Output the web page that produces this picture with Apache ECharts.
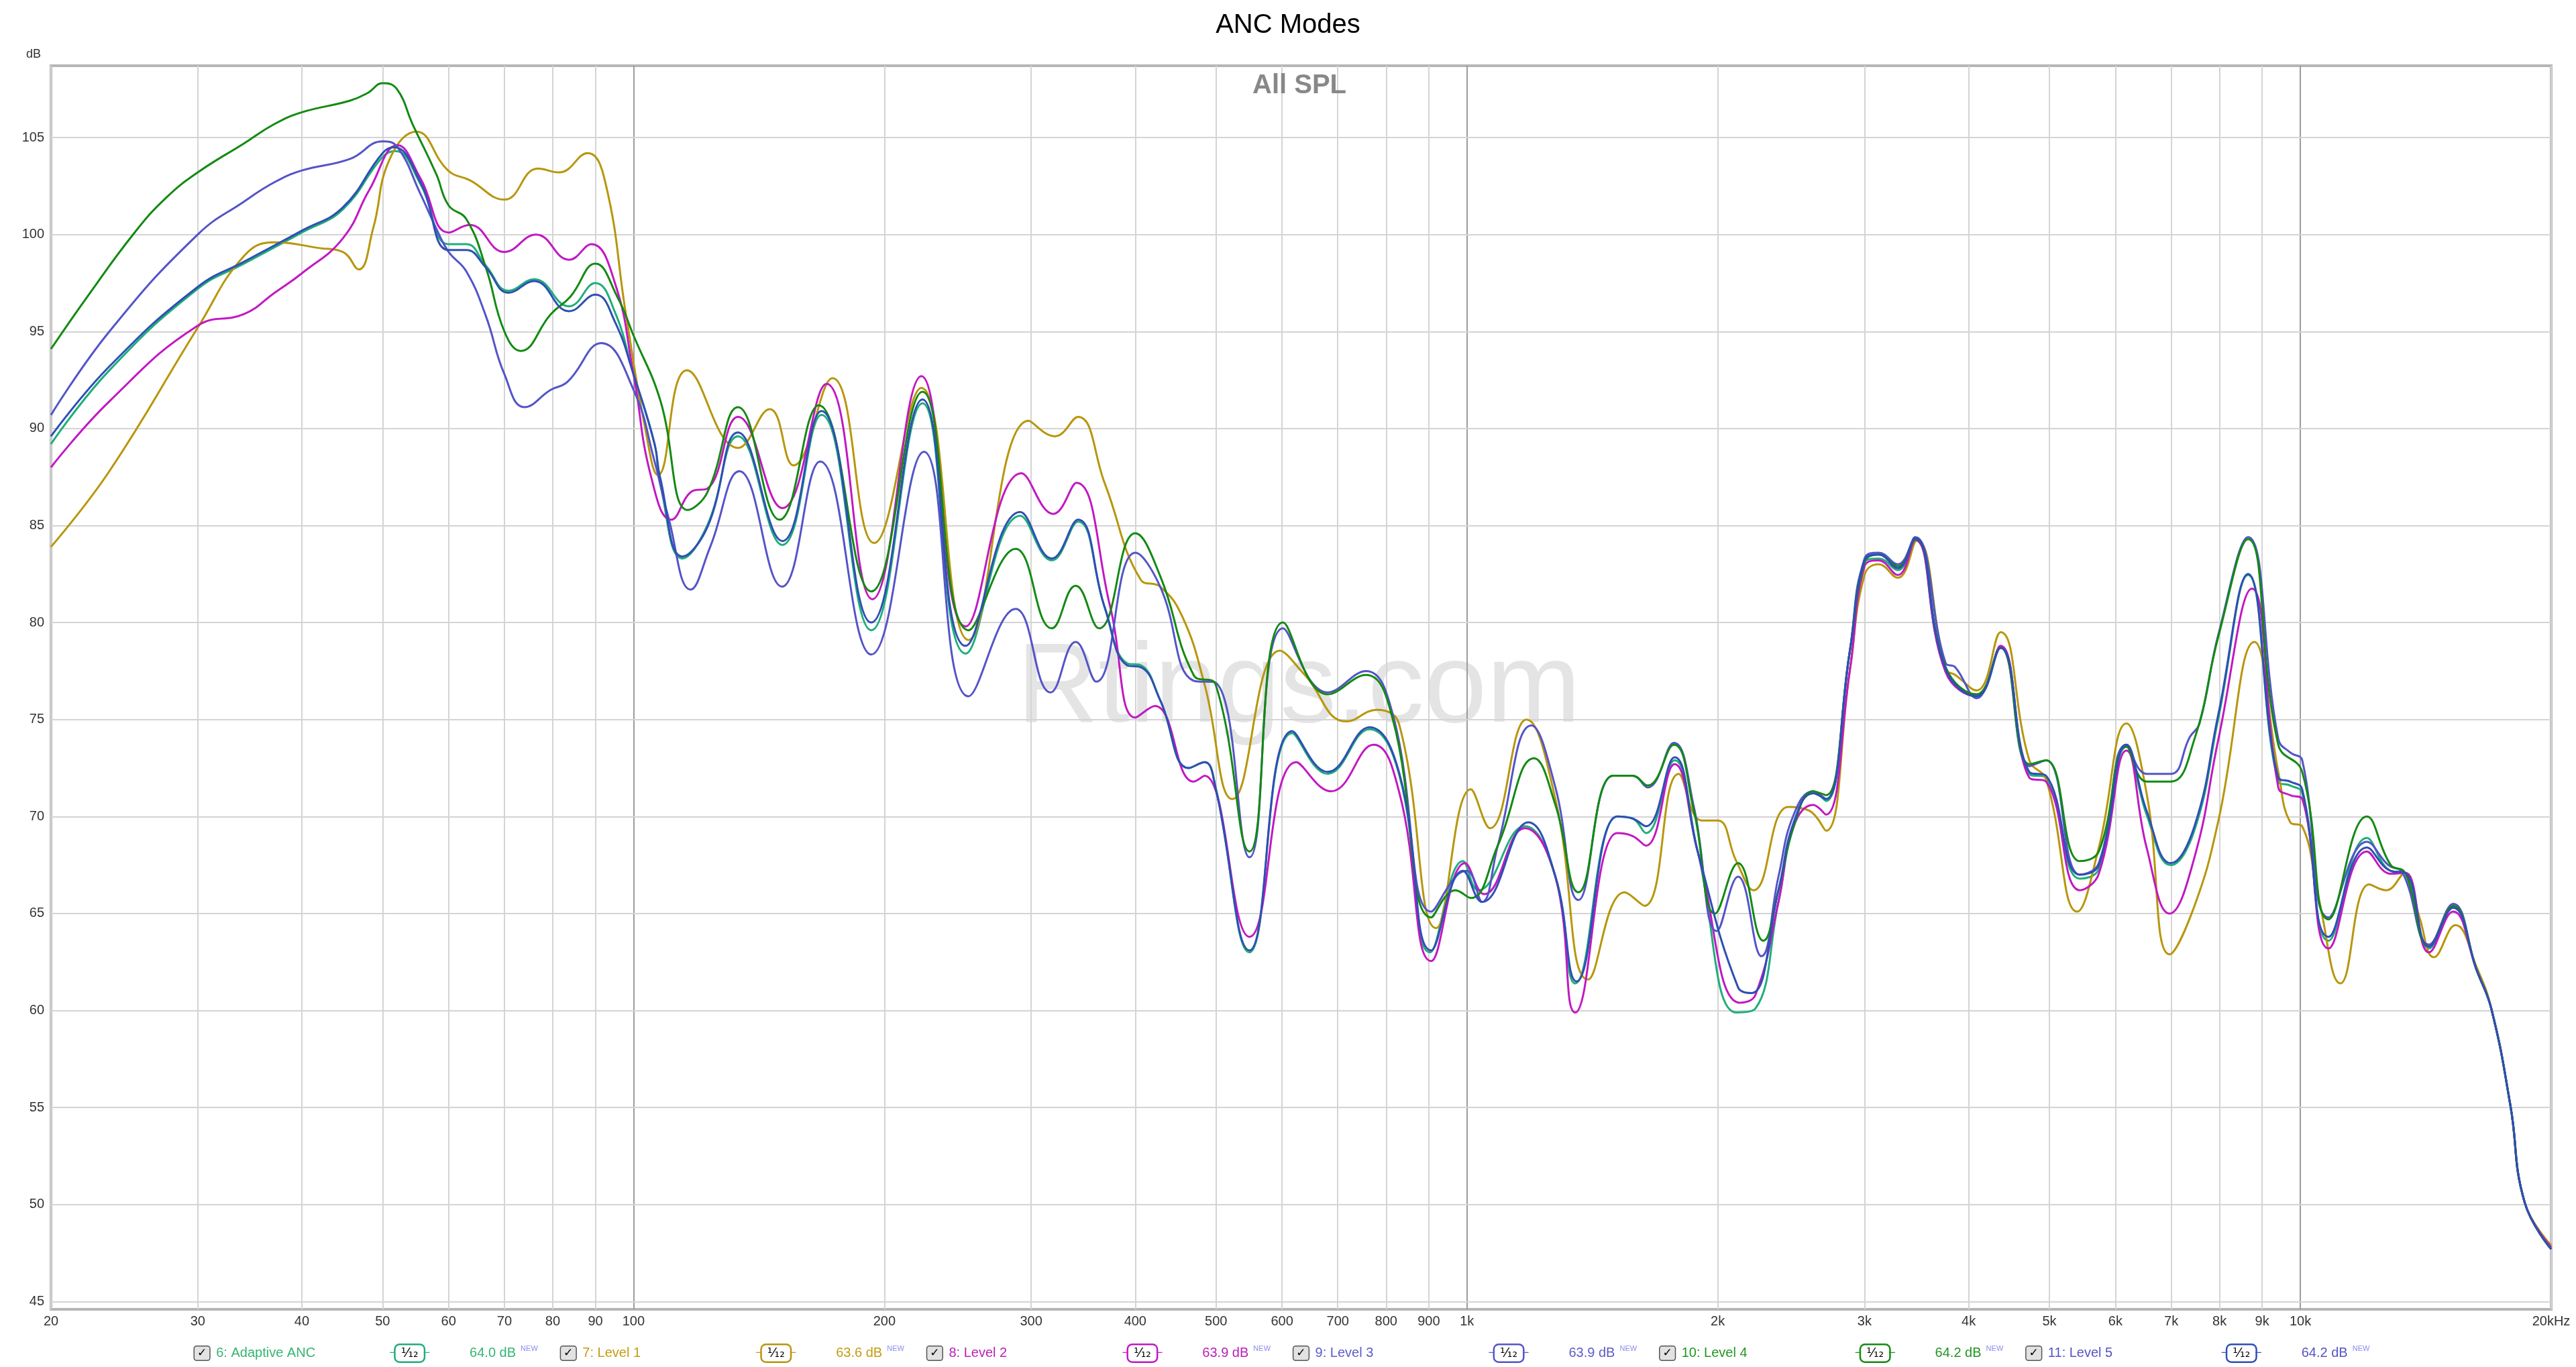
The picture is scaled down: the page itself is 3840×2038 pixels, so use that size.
<!DOCTYPE html>
<html><head><meta charset="utf-8">
<script src="https://cdn.jsdelivr.net/npm/echarts@6/dist/echarts.min.js"></script>
<style>html,body{margin:0;padding:0;background:#fff;}#c{width:3840px;height:2038px;}</style>
</head><body><div id="c"></div>
<script>
const seriesNames = ['6: Adaptive ANC','7: Level 1','8: Level 2','9: Level 3','10: Level 4','11: Level 5'];
const lineColors = ['#1fae7a','#b8960c','#c218c2','#5454c8','#138a13','#2f4fb4'];
const textColors = ['#35b574','#c39c14','#b81fb8','#5c5cc8','#229522','#5454c4'];
const dbLabels = ['64.0 dB','63.6 dB','63.9 dB','63.9 dB','64.2 dB','64.2 dB'];
const xTicks = [20,30,40,50,60,70,80,90,100,200,300,400,500,600,700,800,900,1000,2000,3000,4000,5000,6000,7000,8000,9000,10000,20000];
const xTickLabels = ['20','30','40','50','60','70','80','90','100','200','300','400','500','600','700','800','900','1k','2k','3k','4k','5k','6k','7k','8k','9k','10k','20kHz'];
const decadeTicks = [100,1000,10000];
const yTicks = [45,50,55,60,65,70,75,80,85,90,95,100,105];

const adaptiveANC = [[20,89.2],[23.5,93.0],[30,97.2],[34.1,98.5],[40,100.1],[44.8,101.3],[50,104.0],[51.8,104.3],[55.5,102.6],[60,99.5],[63,99.5],[66.5,98.4],[70.8,97.1],[76,97.7],[83.7,96.3],[90,97.5],[95,96.0],[100,92.8],[106,89.2],[107.6,87.2],[114.5,83.3],[122.6,85.0],[133.5,89.6],[150.9,84.0],[168.1,90.7],[192.9,79.6],[222.2,91.3],[250.3,78.4],[291,85.5],[317.6,83.2],[341.5,85.2],[367.5,80.8],[390.9,77.9],[406.2,77.8],[428.5,76.0],[463.5,72.5],[484.5,72.8],[499.5,71.5],[548.5,63.0],[617,74.3],[680.6,72.2],[764,74.5],[830,72.1],[903,63.0],[989,67.7],[1032,66.2],[1173,69.5],[1277,66.9],[1349,61.4],[1514,70.0],[1580,69.9],[1640,69.15],[1775,72.9],[1892,68.2],[2105,59.9],[2219,60.1],[2365,65.6],[2467,69.5],[2603,71.3],[2697,70.8],[2880,78.5],[3000,83.1],[3119,83.3],[3289,82.7],[3450,84.3],[3754,77.45],[4090,76.2],[4369,78.7],[4730,72.2],[4955,72.0],[5440,66.8],[5731,67.3],[6187,73.6],[6540,70.1],[6990,67.5],[7465,69.3],[7976,75.1],[8656,82.45],[9410,71.8],[9726,71.6],[10053,71.2],[10811,63.6],[12018,68.9],[12838,67.2],[13360,67.1],[14270,63.2],[15252,65.3],[16290,62.05],[16950,60.1],[17870,55.1],[18590,50.1],[20000,47.8]];
const level1 = [[20,83.9],[23.5,87.8],[30,95.2],[34.1,98.9],[37.1,99.6],[42,99.3],[44.8,99.1],[46.8,98.2],[48.7,100.3],[51,103.9],[54.9,105.3],[59.9,103.3],[63.6,102.8],[70,101.8],[76.8,103.4],[81.4,103.2],[88.1,104.2],[92.5,102.7],[98,95.8],[103.5,89.8],[107,87.6],[115.9,93.0],[133.5,89.0],[145.7,91.0],[155.6,88.1],[173.3,92.6],[194.4,84.1],[221.5,92.1],[252.3,79.1],[297.8,90.4],[320.2,89.6],[341.5,90.6],[367.5,87.2],[406.2,82.2],[428.5,81.85],[455.6,80.3],[484.5,76.8],[523.2,70.9],[596.3,78.55],[639,77.3],[716.8,74.9],[779.8,75.5],[829.3,74.75],[918.5,64.25],[1010.7,71.4],[1066,69.4],[1179,75.0],[1277,70.9],[1398,61.6],[1546,66.1],[1634,65.4],[1795,72.2],[1912,69.8],[2000,69.8],[2105,67.7],[2208,66.2],[2430,70.5],[2576,70.3],[2697,69.27],[2880,77.5],[3000,82.45],[3119,83.0],[3289,82.3],[3467,84.25],[3754,77.6],[3854,77.3],[4090,76.5],[4369,79.5],[4730,72.9],[4955,71.9],[5399,65.1],[5731,68.4],[6187,74.8],[6540,71.2],[6969,62.9],[7465,65.4],[7976,69.8],[8808,79.0],[9410,72.3],[9726,69.7],[10053,69.5],[10529,65.7],[11174,61.4],[12097,66.5],[12670,66.2],[13360,67.1],[13900,64.8],[14465,62.75],[15350,64.4],[16290,62.2],[16950,60.1],[17870,55.1],[18590,50.1],[20000,47.9]];
const level2 = [[20,88.0],[23.5,91.4],[30,95.3],[34.1,95.9],[37.1,97.0],[40,98.0],[44.8,99.8],[48.2,102.3],[52.1,104.6],[55.5,102.9],[60,100.1],[63.6,100.5],[70,99.1],[76.4,100.0],[83.7,98.7],[89,99.5],[95,97.5],[100,92.8],[105,87.5],[111,85.3],[118,86.8],[122.6,86.9],[133.5,90.6],[150.9,85.9],[170.5,92.3],[193.5,81.2],[221.5,92.7],[250.3,79.8],[292,87.7],[319,85.6],[340,87.2],[373.3,80.8],[400,75.1],[422.3,75.7],[469.9,71.8],[484.5,72.1],[548.5,63.8],[624,72.8],[686.9,71.3],[772.8,73.7],[830,71.2],[906,62.55],[994.7,67.6],[1049,66.0],[1173,69.4],[1277,66.9],[1349,59.9],[1514,69.15],[1580,69.0],[1640,68.5],[1775,72.7],[1892,68.2],[2126,60.4],[2219,60.8],[2365,65.6],[2467,69.5],[2603,70.6],[2697,70.1],[2880,77.5],[3000,82.9],[3119,83.2],[3289,82.45],[3450,84.25],[3754,77.45],[4090,76.2],[4369,78.8],[4730,72.0],[4955,71.8],[5440,66.2],[5731,67.05],[6187,73.4],[6540,68.4],[6969,65.0],[7465,67.9],[7976,74.0],[8750,81.75],[9410,71.5],[9726,71.1],[10053,70.9],[10811,63.2],[12018,68.2],[12838,67.05],[13360,67.1],[14270,63.0],[15252,65.1],[16290,62.05],[16950,60.1],[17870,55.1],[18590,50.1],[20000,47.8]];
const level3 = [[20,90.7],[23.5,95.0],[30,100.0],[34.1,101.7],[37.1,102.7],[40,103.3],[45.7,103.9],[50,104.8],[52.1,104.5],[55.5,102.1],[58,100.3],[60,99.1],[63,98.1],[66.5,95.8],[70,92.8],[74,91.1],[79.6,92.0],[83.3,92.4],[91.5,94.4],[100,92.0],[106,88.3],[110,85.5],[117.1,81.7],[123.6,83.9],[134,87.8],[150.7,81.85],[167.5,88.3],[192.9,78.35],[223.1,88.8],[252.3,76.2],[287.4,80.7],[316.5,76.4],[339.3,79.0],[359.2,76.95],[400,83.6],[428.5,81.85],[469.9,77.0],[499.5,76.9],[548.5,67.9],[601.5,79.7],[680.6,76.4],[756.6,77.5],[815,75.25],[906,65.1],[969,66.9],[1000,67.2],[1043,65.6],[1089,68.5],[1195,74.7],[1277,71.5],[1361,65.7],[1497,72.1],[1580,72.1],[1648,71.5],[1772,73.8],[1872,70.5],[1995,64.1],[2115,66.9],[2256,62.8],[2365,66.9],[2467,70.1],[2603,71.3],[2697,70.9],[2880,78.5],[3000,83.3],[3119,83.6],[3289,83.0],[3450,84.4],[3754,77.9],[3854,77.7],[4090,76.1],[4369,78.7],[4730,72.6],[4955,72.9],[5440,67.0],[5731,67.6],[6187,73.7],[6540,72.2],[6990,72.2],[7370,74.1],[7570,74.8],[7976,79.4],[8656,84.4],[9410,74.0],[9726,73.3],[10053,72.9],[10811,64.8],[12018,68.7],[12750,67.5],[13270,67.1],[14270,63.4],[15252,65.5],[16290,62.05],[16950,60.1],[17870,55.1],[18590,50.1],[20000,47.7]];
const level4 = [[20,94.1],[22.2,96.9],[25.2,100.1],[27.5,101.9],[30,103.2],[34.1,104.7],[37.1,105.7],[40,106.3],[45.7,106.9],[48,107.3],[50,107.8],[52,107.5],[54.3,105.7],[58,103.1],[60,101.5],[63,100.8],[66.5,98.3],[70,95.0],[73.2,94.0],[79.6,95.9],[84,96.8],[90,98.5],[95.6,96.8],[100,94.8],[107.6,91.5],[116.2,85.8],[122.6,86.7],[133.5,91.1],[149.7,85.3],[166.8,91.2],[192.9,81.6],[222.2,91.9],[252.3,79.6],[287.4,83.8],[317.6,79.7],[339.3,81.9],[362,79.7],[400,84.6],[428.5,82.4],[469.9,77.3],[499.5,76.8],[548.5,68.2],[601.5,80.0],[680.6,76.3],[756.6,77.3],[815,75.0],[906,64.8],[969,66.2],[1011,65.8],[1089,68.5],[1204,73.0],[1277,70.6],[1361,66.1],[1497,72.1],[1580,72.1],[1648,71.6],[1772,73.7],[1872,70.3],[1985,65.0],[2115,67.6],[2268,63.6],[2365,66.2],[2467,69.5],[2603,71.3],[2697,71.1],[2880,78.5],[3000,83.1],[3119,83.5],[3289,82.9],[3450,84.3],[3754,77.7],[4090,76.3],[4369,78.7],[4730,72.7],[4955,72.9],[5440,67.7],[5731,68.2],[6187,73.6],[6540,71.8],[6990,71.8],[7465,74.0],[7976,79.3],[8656,84.3],[9410,73.7],[10053,72.3],[10811,64.7],[12018,70.0],[12838,67.5],[13360,67.1],[14270,63.3],[15252,65.4],[16290,62.05],[16950,60.1],[17870,55.1],[18590,50.1],[20000,47.7]];
const level5 = [[20,89.6],[23.5,93.2],[30,97.3],[34.1,98.6],[40,100.2],[44.8,101.4],[50,104.2],[51.6,104.5],[55.5,102.7],[60,99.2],[63,99.2],[66.5,98.3],[70.8,97.0],[76,97.6],[83.7,96.05],[90,96.9],[95,95.5],[100,92.8],[106,89.2],[107.6,87.5],[114.5,83.4],[122.6,84.9],[133.5,89.8],[150.9,84.2],[168.1,90.9],[192.9,80.0],[222.2,91.5],[250.3,78.8],[291,85.7],[317.6,83.3],[341.5,85.3],[367.5,80.8],[390.9,77.8],[406.2,77.7],[428.5,76.0],[463.5,72.5],[484.5,72.8],[499.5,71.45],[548.5,63.1],[617,74.4],[680.6,72.3],[764,74.6],[830,72.2],[906,63.1],[989,67.2],[1043,65.6],[1185,69.7],[1277,66.9],[1354,61.5],[1514,70.0],[1580,69.9],[1640,69.5],[1775,73.05],[1892,68.2],[2115,61.2],[2196,60.9],[2365,66.2],[2467,69.7],[2603,71.2],[2697,70.9],[2880,78.5],[3000,83.2],[3119,83.5],[3289,82.8],[3450,84.35],[3754,77.6],[4090,76.2],[4369,78.7],[4730,72.3],[4955,72.1],[5440,67.0],[5731,67.5],[6187,73.7],[6540,70.3],[6990,67.6],[7465,69.5],[7976,75.3],[8656,82.5],[9410,72.0],[9726,71.8],[10053,71.4],[10811,63.8],[12018,68.4],[12838,67.2],[13360,67.1],[14270,63.3],[15252,65.3],[16290,62.05],[16950,60.1],[17870,55.1],[18590,50.1],[20000,47.7]];

const seriesData = [adaptiveANC, level1, level2, level3, level4, level5];
const FONT = '"Liberation Sans", Arial, sans-serif';

const rich = {
  chk: {padding: [2, 4, 1, 4], backgroundColor: '#e2e2e2', borderColor: '#555', borderWidth: 1.5, borderRadius: 3, color: '#000', fontSize: 17, fontWeight: 'bold', fontFamily: 'DejaVu Sans'},
  sp: {width: 10},
  name: {width: 259, fontSize: 20, fontFamily: FONT},
  gap: {width: 60},
  db: {width: 76, fontSize: 20, fontFamily: FONT},
  nw: {width: 34, fontSize: 11, color: '#8c8cee', fontFamily: FONT, verticalAlign: 'top', lineHeight: 12}
};
lineColors.forEach((c, i) => {
  rich['l' + i] = {color: c, fontSize: 14, fontFamily: 'DejaVu Sans'};
  rich['b' + i] = {color: '#000', borderColor: c, borderWidth: 2.5, borderRadius: 6, padding: [3, 8, 2, 8], fontSize: 19, fontFamily: 'DejaVu Sans', backgroundColor: '#fff'};
});

const gridMarks = [];
xTicks.forEach((v, i) => gridMarks.push({xAxis: v, label: {formatter: xTickLabels[i], distance: 8}, lineStyle: {color: decadeTicks.includes(v) ? '#9c9c9c' : '#d4d4d4'}}));
yTicks.forEach(v => gridMarks.push({yAxis: v, label: {formatter: String(v), distance: 10}}));

const chart = echarts.init(document.getElementById('c'), null, {renderer: 'canvas'});
const series = [{
  type: 'line', name: '__grid', data: [], silent: true, z: 1,
  markLine: {
    silent: true, z: 1, animation: false, symbol: ['none', 'none'],
    lineStyle: {type: 'solid', width: 2, color: '#d4d4d4'},
    label: {position: 'start', color: '#333', fontSize: 20, fontFamily: FONT},
    emphasis: {disabled: true},
    data: gridMarks
  }
}];
seriesNames.forEach((n, i) => series.push({
  type: 'line', name: n, data: seriesData[i], showSymbol: false, smooth: 0.45,
  z: 3, lineStyle: {width: 3, color: lineColors[i]}, itemStyle: {color: lineColors[i]},
  emphasis: {disabled: true}
}));

chart.setOption({
  animation: false,
  backgroundColor: '#fff',
  title: {text: 'ANC Modes', left: 'center', top: 18, padding: 0,
    textStyle: {fontSize: 40, fontWeight: 'normal', color: '#000', fontFamily: FONT}},
  graphic: [
    {type: 'text', z: 1, silent: true, style: {text: 'Rtings.com', x: 1936, y: 1030, align: 'center', verticalAlign: 'middle', font: '168px "Liberation Sans", Arial, sans-serif', fill: '#e4e4e4'}},
    {type: 'text', z: 4, silent: true, style: {text: 'All SPL', x: 1937, y: 128, align: 'center', verticalAlign: 'middle', font: 'bold 40px "Liberation Sans", Arial, sans-serif', fill: '#888888'}}
  ],
  grid: {left: 76, right: 37, top: 98, bottom: 86, show: true, borderColor: '#b6b6b6', borderWidth: 4, backgroundColor: '#fff', containLabel: false},
  xAxis: {type: 'log', logBase: 10, min: 20, max: 20000,
    axisLine: {show: false}, axisTick: {show: false}, axisLabel: {show: false}, splitLine: {show: false}, minorSplitLine: {show: false}},
  yAxis: {type: 'value', min: 44.6, max: 108.7, name: 'dB', nameLocation: 'end', nameGap: 17,
    nameTextStyle: {align: 'right', verticalAlign: 'middle', padding: [0, 15, 0, 0], fontSize: 18, color: '#333', fontFamily: FONT},
    axisLine: {show: false}, axisTick: {show: false}, axisLabel: {show: false}, splitLine: {show: false}},
  legend: {
    left: 279, top: 1998, itemGap: 20, itemWidth: 1, itemHeight: 1, icon: 'rect', selectedMode: false,
    itemStyle: {opacity: 0}, lineStyle: {opacity: 0},
    data: seriesNames.map((n, i) => ({name: n, textStyle: {color: textColors[i]}})),
    formatter: function (name) {
      const i = seriesNames.indexOf(name);
      return '{chk|✓}{sp|}{name|' + name + '}{l' + i + '|─}{b' + i + '|¹⁄₁₂}{l' + i + '|─}{gap|}{db|' + dbLabels[i] + '}{nw|NEW}';
    },
    textStyle: {fontSize: 20, fontFamily: FONT, rich: rich}
  },
  series: series
});
</script></body></html>
